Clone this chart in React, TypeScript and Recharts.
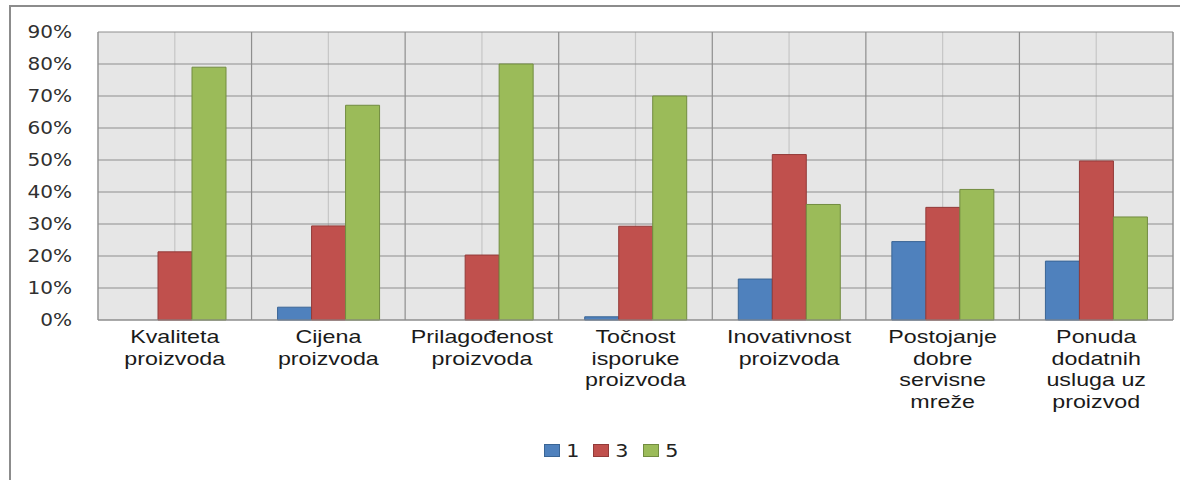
import React from "react";
import { BarChart, Bar, XAxis, YAxis, CartesianGrid, Legend } from "recharts";

const categories = [
  "Kvaliteta\nproizvoda",
  "Cijena\nproizvoda",
  "Prilagođenost\nproizvoda",
  "Točnost\nisporuke\nproizvoda",
  "Inovativnost\nproizvoda",
  "Postojanje\ndobre\nservisne\nmreže",
  "Ponuda\ndodatnih\nusluga uz\nproizvod",
];
const series1 = [0, 4.0, 0, 1.0, 12.8, 24.5, 18.4];
const series3 = [21.3, 29.4, 20.3, 29.3, 51.7, 35.2, 49.7];
const series5 = [79.0, 67.1, 80.0, 70.0, 36.1, 40.8, 32.2];
const yTicks = [0, 10, 20, 30, 40, 50, 60, 70, 80, 90];
const seriesNames = ["1", "3", "5"];

const data = categories.map((name, i) => ({
  name,
  s1: series1[i],
  s3: series3[i],
  s5: series5[i],
}));

const XTick = (props: any) => {
  const { x, y, payload } = props;
  const lines = String(payload.value).split("\n");
  return (
    <g transform={`translate(${x},${y})`}>
      <text
        textAnchor="middle"
        fontFamily="'Liberation Sans', Arial, sans-serif"
        fontSize={17.5}
        fill="#1a1a1a"
        transform="scale(1.33,1)"
      >
        {lines.map((l, i) => (
          <tspan key={i} x={0} y={23 + i * 21.7}>
            {l}
          </tspan>
        ))}
      </text>
    </g>
  );
};

const YTick = (props: any) => {
  const { x, y, payload } = props;
  return (
    <g transform={`translate(${x},${y})`}>
      <text
        textAnchor="end"
        fontFamily="'DejaVu Sans', Verdana, sans-serif"
        fontSize={17}
        fill="#303030"
        dy="0.36em"
        transform="scale(1.18,1)"
      >
        {`${payload.value}%`}
      </text>
    </g>
  );
};

const renderLegend = (props: any) => {
  const { payload } = props;
  return (
    <div
      style={{
        display: "flex",
        alignItems: "center",
        fontFamily: "'DejaVu Sans', Verdana, sans-serif",
        fontSize: 18,
        color: "#222",
      }}
    >
      {(payload || []).map((e: any, i: number) => (
        <div
          key={i}
          style={{ display: "flex", alignItems: "center", marginRight: 15, height: 20 }}
        >
          <span
            style={{
              display: "inline-block",
              width: 14,
              height: 11,
              background: e.color,
              border: `1px solid ${(e.payload && e.payload.stroke) || e.color}`,
            }}
          />
          <span style={{ marginLeft: 7, display: "inline-block", transform: "scaleX(1.15)" }}>
            {e.value}
          </span>
        </div>
      ))}
    </div>
  );
};

export default function App() {
  return (
    <div
      style={{
        position: "absolute",
        left: 0,
        top: 0,
        width: 1180,
        height: 480,
        overflow: "hidden",
        background: "#fff",
      }}
    >
      <div
        style={{
          position: "absolute",
          left: 9,
          top: 5,
          width: 1250,
          height: 520,
          border: "2px solid #8c8c8c",
        }}
      />
      <div style={{ position: "absolute", left: 0, top: 0 }}>
        <BarChart
          width={1180}
          height={480}
          data={data}
          margin={{ top: 32, right: 7, left: 18, bottom: 60 }}
          barGap={0}
        >
          <CartesianGrid
            fill="#e6e6e6"
            fillOpacity={1}
            horizontal={false}
            stroke="#c6c6c6"
            strokeWidth={1.2}
          />
          <CartesianGrid
            stroke="#8e8e8e"
            strokeWidth={1.2}
            verticalCoordinatesGenerator={({ offset }: any) =>
              Array.from({ length: categories.length + 1 }, (_, i) =>
                offset.left + (i * offset.width) / categories.length
              )
            }
          />
          <XAxis
            dataKey="name"
            interval={0}
            tickLine={false}
            tickSize={0}
            tickMargin={0}
            axisLine={{ stroke: "#8e8e8e", strokeWidth: 1.2 }}
            height={100}
            tick={<XTick />}
          />
          <YAxis
            domain={[0, 90]}
            ticks={yTicks}
            width={80}
            axisLine={false}
            tickLine={false}
            tickSize={0}
            tickMargin={26}
            tick={<YTick />}
          />
          <Legend
            layout="horizontal"
            verticalAlign="middle"
            align="center"
            content={renderLegend}
            wrapperStyle={{ left: 544, top: 440, width: "auto" }}
          />
          <Bar
            dataKey="s1"
            name={seriesNames[0]}
            fill="#4f81bd"
            stroke="#3a6595"
            strokeWidth={1}
            barSize={34}
            isAnimationActive={false}
          />
          <Bar
            dataKey="s3"
            name={seriesNames[1]}
            fill="#c0504d"
            stroke="#933b39"
            strokeWidth={1}
            barSize={34}
            isAnimationActive={false}
          />
          <Bar
            dataKey="s5"
            name={seriesNames[2]}
            fill="#9bbb59"
            stroke="#728c40"
            strokeWidth={1}
            barSize={34}
            isAnimationActive={false}
          />
        </BarChart>
      </div>
    </div>
  );
}
